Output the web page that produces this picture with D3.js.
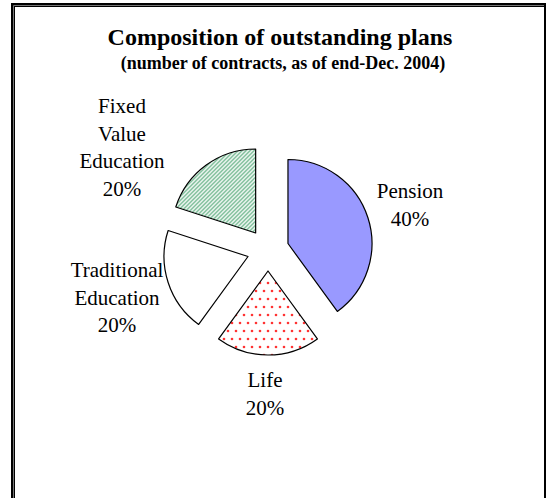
<!DOCTYPE html>
<html>
<head>
<meta charset="utf-8">
<script src="https://cdn.jsdelivr.net/npm/d3@7"></script>
<style>
  body { margin: 0; background: #fff; }
  text { font-family: "Liberation Serif", "Times New Roman", serif; fill: #000; }
</style>
</head>
<body>
<svg id="chart" width="547" height="498"></svg>
<script>
// Plan types and their share of outstanding contracts (%)
const categories = ["Pension", "Life", "Traditional Education", "Fixed Value Education"];
const values = [40, 20, 20, 20];
const labelLines = [
  ["Pension", "40%"],
  ["Life", "20%"],
  ["Traditional", "Education", "20%"],
  ["Fixed", "Value", "Education", "20%"]
];
const titleText = "Composition of outstanding plans";
const subtitleText = "(number of contracts, as of end-Dec. 2004)";

const svg = d3.select("#chart");
const W = 547, H = 498;

// Fill patterns
const defs = svg.append("defs");

const stripes = defs.append("pattern")
  .attr("id", "stripes").attr("patternUnits", "userSpaceOnUse")
  .attr("width", 4).attr("height", 4);
stripes.append("rect").attr("width", 4).attr("height", 4).attr("fill", "#fff");
stripes.append("path").attr("d", "M-1,1 l2,-2 M0,4 l4,-4 M3,5 l2,-2")
  .attr("stroke", "#6db58c").attr("stroke-width", 1.4);

const dots = defs.append("pattern")
  .attr("id", "dots").attr("patternUnits", "userSpaceOnUse")
  .attr("width", 16).attr("height", 16);
dots.append("rect").attr("width", 16).attr("height", 16).attr("fill", "#fff");
[[4, 4], [12, 4], [0, 12], [8, 12], [16, 12]].forEach(([x, y]) => {
  dots.append("circle").attr("cx", x).attr("cy", y).attr("r", 1.3).attr("fill", "#f33");
});

const fills = ["#9999ff", "url(#dots)", "#ffffff", "url(#stripes)"];

// Frame
svg.append("rect").attr("x", 0).attr("y", 0).attr("width", W).attr("height", H).attr("fill", "#fff");
svg.append("path").attr("d", `M13,${H} V5 H545`).attr("fill", "none")
  .attr("stroke", "#000").attr("stroke-width", 4);
svg.append("path").attr("d", `M13.5,${H} V5.5 H544`).attr("fill", "none")
  .attr("stroke", "#777").attr("stroke-width", 1);
svg.append("line").attr("x1", 545).attr("x2", 545).attr("y1", 3).attr("y2", H)
  .attr("stroke", "#000").attr("stroke-width", 2);

// Titles
svg.append("text").attr("x", 280).attr("y", 45).attr("text-anchor", "middle")
  .attr("font-size", 24).attr("font-weight", "bold").text(titleText);
svg.append("text").attr("x", 283).attr("y", 69).attr("text-anchor", "middle")
  .attr("font-size", 18).attr("font-weight", "bold").text(subtitleText);

// Exploded pie
const cx = 268, cy = 250, radius = 84, explode = 21;
const pie = d3.pie().sort(null).value(d => d);
const arc = d3.arc().innerRadius(0).outerRadius(radius);
const slices = pie(values);

svg.append("g").attr("transform", `translate(${cx},${cy})`)
  .selectAll("path").data(slices).join("path")
  .attr("transform", d => {
    const m = (d.startAngle + d.endAngle) / 2;
    return `translate(${explode * Math.sin(m)},${-explode * Math.cos(m)})`;
  })
  .attr("d", arc)
  .attr("fill", (d, i) => fills[i])
  .attr("stroke", "#000").attr("stroke-width", 1.2)
  .attr("stroke-linejoin", "round");

// Category labels: block centre x and first baseline y
const labelPos = [[410, 198], [265, 387], [117, 277], [122, 113]];
const lineGap = 27.7;
labelLines.forEach((lines, i) => {
  const t = svg.append("text").attr("text-anchor", "middle").attr("font-size", 21);
  lines.forEach((s, j) => {
    t.append("tspan").attr("x", labelPos[i][0]).attr("y", labelPos[i][1] + j * lineGap).text(s);
  });
});
</script>
</body>
</html>
